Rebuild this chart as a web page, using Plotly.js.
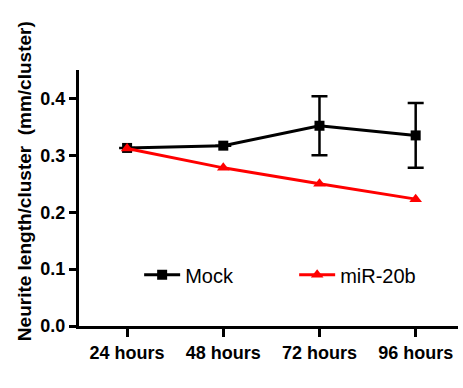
<!DOCTYPE html>
<html>
<head>
<meta charset="utf-8">
<script src="https://cdn.plot.ly/plotly-3.0.1.min.js"></script>
<style>
  html, body { margin: 0; padding: 0; background: #ffffff; }
  #chart { width: 463px; height: 388px; }
</style>
</head>
<body>
<div id="chart"></div>
<script>
// Time points
const timepoints = ["24 hours", "48 hours", "72 hours", "96 hours"];

// Neurite length per cluster (mm/cluster)
const mockValues = [0.313, 0.317, 0.352, 0.335];
const mockErrors = [0, 0, 0.052, 0.057];
const mir20bValues = [0.312, 0.278, 0.250, 0.223];

const yTickValues = [0.0, 0.1, 0.2, 0.3, 0.4];
const yTickLabels = ["0.0", "0.1", "0.2", "0.3", "0.4"];

const boldFont = { family: "Liberation Sans, Arial, sans-serif", size: 18, color: "#000000", weight: "bold" };
const legendFont = { family: "Liberation Sans, Arial, sans-serif", size: 20, color: "#000000" };

const traces = [
  {
    name: "Mock",
    legend: "legend",
    x: timepoints,
    y: mockValues,
    type: "scatter",
    mode: "lines+markers",
    line: { color: "#000000", width: 3 },
    marker: { symbol: "square", size: 10, color: "#000000" },
    error_y: { type: "data", array: mockErrors, visible: true, color: "#000000", thickness: 2.5, width: 8 }
  },
  {
    name: "miR-20b",
    legend: "legend2",
    x: timepoints,
    y: mir20bValues,
    type: "scatter",
    mode: "lines+markers",
    line: { color: "#ff0000", width: 3 },
    marker: { symbol: "triangle-up", size: 11, color: "#ff0000" }
  }
];

// One legend box per series, side by side inside the plot
function legendBox(xPos) {
  return {
    orientation: "h",
    x: xPos,
    y: 0.2,
    xanchor: "left",
    yanchor: "middle",
    bgcolor: "rgba(0,0,0,0)",
    itemwidth: 36,
    font: legendFont
  };
}

const layout = {
  width: 463,
  height: 388,
  margin: { l: 79, r: 5, t: 70, b: 62 },
  paper_bgcolor: "#ffffff",
  plot_bgcolor: "#ffffff",
  showlegend: true,
  legend: legendBox(0.1587),
  legend2: legendBox(0.5677),
  xaxis: {
    type: "category",
    range: [-0.5, 3.44],
    showgrid: false,
    zeroline: false,
    showline: true,
    linecolor: "#000000",
    linewidth: 3,
    ticks: "outside",
    ticklen: 8,
    tickwidth: 3,
    tickcolor: "#000000",
    tickfont: boldFont
  },
  yaxis: {
    range: [0, 0.45],
    showgrid: false,
    zeroline: false,
    showline: true,
    linecolor: "#000000",
    linewidth: 3,
    ticks: "outside",
    ticklen: 7,
    tickwidth: 3,
    tickcolor: "#000000",
    tickvals: yTickValues,
    ticktext: yTickLabels,
    tickfont: boldFont
  },
  annotations: [
    {
      text: "Neurite length/cluster  (mm/cluster)",
      xref: "paper",
      yref: "paper",
      x: -0.145,
      y: 0.566,
      xanchor: "center",
      yanchor: "middle",
      textangle: -90,
      showarrow: false,
      font: { family: "Liberation Sans, Arial, sans-serif", size: 19, color: "#000000", weight: "bold" }
    }
  ]
};

Plotly.newPlot("chart", traces, layout, { staticPlot: true, displayModeBar: false });
</script>
</body>
</html>
